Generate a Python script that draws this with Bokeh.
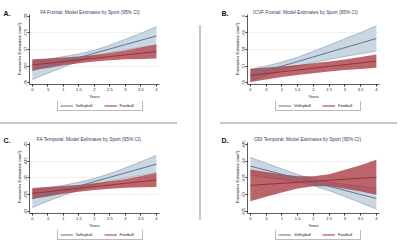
from bokeh.plotting import figure
from bokeh.models import (Range1d, FixedTicker, Legend, LegendItem, LinearAxis,
                          Spacer, ColumnDataSource)
from bokeh.layouts import row, column
from bokeh.embed import file_html
from bokeh.resources import INLINE

# ---------------- data ----------------
years = [0, 0.5, 1, 1.5, 2, 2.5, 3, 3.5, 4]
year_ticks = [0, 0.5, 1, 1.5, 2, 2.5, 3, 3.5, 4]
year_labels = ["0", ".5", "1", "1.5", "2", "2.5", "3", "3.5", "4"]
sports = ["Volleyball", "Football"]

# A. FA Frontal
a_ticks = [0.36, 0.365, 0.37, 0.375, 0.38]
a_labels = [".36", ".365", ".37", ".375", ".38"]
a_vb = [0.3637, 0.3650, 0.3663, 0.3676, 0.3689, 0.3702, 0.3715, 0.3728, 0.3741]
a_vb_hi = [0.3665, 0.3671, 0.3679, 0.3687, 0.3698, 0.3713, 0.3731, 0.3749, 0.3769]
a_vb_lo = [0.3610, 0.3629, 0.3647, 0.3665, 0.3681, 0.3691, 0.3699, 0.3707, 0.3714]
a_fb = [0.3654, 0.3659, 0.3664, 0.3669, 0.3674, 0.3679, 0.3684, 0.3689, 0.3694]
a_fb_hi = [0.3671, 0.3673, 0.3676, 0.3679, 0.3684, 0.3690, 0.3697, 0.3706, 0.3715]
a_fb_lo = [0.3638, 0.3645, 0.3653, 0.3659, 0.3664, 0.3668, 0.3671, 0.3672, 0.3673]

# B. ICVF Frontal
b_ticks = [0.56, 0.57, 0.58, 0.59, 0.60]
b_labels = [".56", ".57", ".58", ".59", ".6"]
b_vb = [0.5645, 0.5673, 0.5701, 0.5728, 0.5756, 0.5784, 0.5812, 0.5839, 0.5867]
b_vb_hi = [0.5680, 0.5701, 0.5725, 0.5754, 0.5790, 0.5827, 0.5865, 0.5903, 0.5943]
b_vb_lo = [0.5610, 0.5645, 0.5677, 0.5702, 0.5722, 0.5741, 0.5759, 0.5775, 0.5791]
b_fb = [0.5645, 0.5656, 0.5667, 0.5677, 0.5688, 0.5699, 0.5709, 0.5720, 0.5731]
b_fb_hi = [0.5685, 0.5692, 0.5699, 0.5707, 0.5718, 0.5729, 0.5741, 0.5756, 0.5771]
b_fb_lo = [0.5605, 0.5620, 0.5635, 0.5647, 0.5658, 0.5669, 0.5677, 0.5684, 0.5691]

# C. FA Temporal
c_ticks = [0.43, 0.435, 0.44, 0.445, 0.45]
c_labels = [".43", ".435", ".44", ".445", ".45"]
c_vb = [0.4338, 0.4351, 0.4363, 0.4376, 0.4389, 0.4402, 0.4415, 0.4428, 0.4441]
c_vb_hi = [0.4364, 0.4371, 0.4378, 0.4387, 0.4398, 0.4413, 0.4430, 0.4448, 0.4467]
c_vb_lo = [0.4312, 0.4331, 0.4348, 0.4365, 0.4380, 0.4391, 0.4400, 0.4408, 0.4415]
c_fb = [0.4354, 0.4359, 0.4364, 0.4369, 0.4374, 0.4379, 0.4384, 0.4389, 0.4394]
c_fb_hi = [0.4370, 0.4373, 0.4376, 0.4379, 0.4384, 0.4390, 0.4397, 0.4406, 0.4415]
c_fb_lo = [0.4338, 0.4345, 0.4353, 0.4359, 0.4364, 0.4368, 0.4371, 0.4372, 0.4373]

# D. ODI Temporal
d_ticks = [0.625, 0.63, 0.635, 0.64, 0.645]
d_labels = [".625", ".63", ".635", ".64", ".645"]
d_vb = [0.6385, 0.6373, 0.6361, 0.6349, 0.6337, 0.6325, 0.6313, 0.6301, 0.6289]
d_vb_hi = [0.6411, 0.6394, 0.6377, 0.6360, 0.6347, 0.6338, 0.6331, 0.6326, 0.6320]
d_vb_lo = [0.6359, 0.6352, 0.6345, 0.6338, 0.6327, 0.6312, 0.6295, 0.6276, 0.6258]
d_fb = [0.6328, 0.6331, 0.6334, 0.6337, 0.6340, 0.6343, 0.6346, 0.6349, 0.6352]
d_fb_hi = [0.6375, 0.6368, 0.6361, 0.6355, 0.6355, 0.6361, 0.6374, 0.6388, 0.6404]
d_fb_lo = [0.6281, 0.6294, 0.6307, 0.6319, 0.6325, 0.6325, 0.6318, 0.6310, 0.6300]

titles = [
    "FA Frontal: Model Estimates by Sport (95% CI)",
    "ICVF Frontal: Model Estimates by Sport (95% CI)",
    "FA Temporal: Model Estimates by Sport (95% CI)",
    "ODI Temporal: Model Estimates by Sport (95% CI)",
]
letters = ["A.", "B.", "C.", "D."]
y_title = "Parameter Estimation (mm\u00b2)"
x_title = "Years"

# ---------------- style ----------------
FONT = "Liberation Sans"
VB_LINE = "#5a7793"
VB_FILL = "#c4d1de"
VB_EDGE = "#93a6ba"
FB_LINE = "#9c3038"
FB_FILL = "#a3333b"
SEP = "#c8c8c8"
W, H = 199, 122
X0, X1 = -0.09, 4.1
BOTTOM = 13


def plain_axis(ax, size, style, color, standoff):
    ax.axis_line_color = None
    ax.major_tick_line_color = None
    ax.minor_tick_line_color = None
    ax.major_tick_out = 0
    ax.major_tick_in = 0
    ax.minor_tick_out = 0
    ax.minor_tick_in = 0
    ax.major_label_text_font = FONT
    ax.major_label_text_font_size = size
    ax.major_label_text_font_style = style
    ax.major_label_text_color = color
    ax.major_label_standoff = standoff


def panel(letter, title, ticks, labels, vb, vb_lo, vb_hi, fb, fb_lo, fb_hi,
          left, right, top, frame_h, pad_top, pad_bot, title_px):
    step = ticks[1] - ticks[0]
    y_lo = ticks[0] - pad_bot * step
    y_hi = ticks[-1] + pad_top * step
    frame_w = W - left - right
    title_x = X0 + (title_px - left) / frame_w * (X1 - X0)

    p = figure(width=W, height=top + frame_h + BOTTOM, toolbar_location=None,
               output_backend="svg", title=None,
               x_range=Range1d(X0, X1), y_range=Range1d(y_lo, y_hi),
               min_border_left=left, min_border_right=right,
               min_border_top=top, min_border_bottom=BOTTOM,
               background_fill_color="white", border_fill_color="white",
               outline_line_color=None)
    src = ColumnDataSource(dict(x=years, vb=vb, vb_lo=vb_lo, vb_hi=vb_hi,
                                fb=fb, fb_lo=fb_lo, fb_hi=fb_hi))
    p.varea(x="x", y1="vb_lo", y2="vb_hi", source=src, fill_color=VB_FILL, fill_alpha=0.9)
    p.line(x="x", y="vb_lo", source=src, line_color=VB_EDGE, line_width=0.7)
    p.line(x="x", y="vb_hi", source=src, line_color=VB_EDGE, line_width=0.7)
    p.varea(x="x", y1="fb_lo", y2="fb_hi", source=src, fill_color=FB_FILL, fill_alpha=0.75)
    p.line(x="x", y="vb", source=src, line_color=VB_LINE, line_width=1)
    p.line(x="x", y="fb", source=src, line_color=FB_LINE, line_width=1)

    xax = p.xaxis[0]
    yax = p.yaxis[0]
    xax.ticker = FixedTicker(ticks=year_ticks)
    xax.major_label_overrides = {t: l for t, l in zip(year_ticks, year_labels)}
    yax.ticker = FixedTicker(ticks=ticks)
    yax.major_label_overrides = {t: l for t, l in zip(ticks, labels)}
    yax.major_label_orientation = "vertical"
    yax.bounds = (y_lo, ticks[-1] + 0.1 * step)
    xax.axis_label = x_title
    yax.axis_label = y_title
    for ax in (xax, yax):
        ax.axis_label_text_font = FONT
        ax.axis_label_text_font_size = "4.2px"
        ax.axis_label_text_font_style = "normal"
        ax.axis_label_text_color = "#222222"
        ax.axis_label_standoff = 0
        ax.major_label_text_font = FONT
        ax.major_label_text_font_size = "4px"
        ax.major_label_text_color = "#222222"
        ax.major_label_standoff = 1
        ax.major_tick_out = 2
        ax.major_tick_in = 0
        ax.minor_tick_out = 0
        ax.minor_tick_in = 0
        ax.axis_line_color = "#333333"
        ax.major_tick_line_color = "#333333"
        ax.axis_line_width = 0.8
    yax.major_label_standoff = 0
    p.xgrid.visible = False
    p.ygrid.ticker = FixedTicker(ticks=ticks[1:-1])
    p.ygrid.grid_line_color = "#ececec"
    p.ygrid.grid_line_width = 0.8

    # title, written as the single label of an axis above the frame
    tax = LinearAxis(ticker=FixedTicker(ticks=[title_x]),
                     major_label_overrides={title_x: title})
    plain_axis(tax, "4.8px", "normal", "#2a3f5f", -1)
    p.add_layout(tax, "above")

    # panel letter, written as the single label of an outer left axis
    lax = LinearAxis(ticker=FixedTicker(ticks=[y_hi]),
                     major_label_overrides={y_hi: letter})
    plain_axis(lax, "7px", "bold", "#111111", 3)
    p.add_layout(lax, "left")

    # legend strip below the plot (its sample lines lie outside the strip's view)
    leg_h = H - top - frame_h - BOTTOM
    foot = figure(width=W, height=leg_h, toolbar_location=None, output_backend="svg",
                  x_range=Range1d(0, 1), y_range=Range1d(0, 1),
                  x_axis_location=None, y_axis_location=None, title=None,
                  min_border_left=left, min_border_right=right,
                  min_border_top=0, min_border_bottom=0, outline_line_color=None,
                  background_fill_color="white", border_fill_color="white")
    foot.grid.visible = False
    rv = foot.line(x=[-3, -2], y=[-3, -3], line_color=VB_LINE, line_width=1)
    rf = foot.line(x=[-3, -2], y=[-3, -3], line_color=FB_LINE, line_width=1)
    legend = Legend(items=[LegendItem(label=sports[0], renderers=[rv]),
                           LegendItem(label=sports[1], renderers=[rf])],
                    orientation="horizontal",
                    location=((frame_w - 76) / 2, leg_h - 10),
                    label_text_font=FONT, label_text_font_size="4px",
                    label_text_color="#222222",
                    glyph_width=13, glyph_height=5, label_height=5,
                    label_standoff=3, spacing=8, padding=2, margin=0,
                    border_line_color="#777777", border_line_width=0.6,
                    background_fill_color="white")
    foot.add_layout(legend, "center")
    return column(p, foot, spacing=0)


pa = panel(letters[0], titles[0], a_ticks, a_labels, a_vb, a_vb_lo, a_vb_hi,
           a_fb, a_fb_lo, a_fb_hi, 28, 40, 13, 75, 0.17, 0.097, 89)
pb = panel(letters[1], titles[1], b_ticks, b_labels, b_vb, b_vb_lo, b_vb_hi,
           b_fb, b_fb_lo, b_fb_hi, 46, 21, 13, 75, 0.17, 0.097, 104)
pc = panel(letters[2], titles[2], c_ticks, c_labels, c_vb, c_vb_lo, c_vb_hi,
           c_fb, c_fb_lo, c_fb_hi, 28, 40, 16, 77, 0.225, 0.113, 88)
pd = panel(letters[3], titles[3], d_ticks, d_labels, d_vb, d_vb_lo, d_vb_hi,
           d_fb, d_fb_lo, d_fb_hi, 46, 21, 16, 77, 0.225, 0.113, 106)

hsep_left = row(Spacer(width=177, height=2, styles={"background-color": SEP}),
                Spacer(width=22, height=2))
hsep_right = row(Spacer(width=19, height=2),
                 Spacer(width=177, height=2, styles={"background-color": SEP}),
                 Spacer(width=3, height=2))
vsep = column(Spacer(width=2, height=25),
              Spacer(width=2, height=195, styles={"background-color": SEP}),
              Spacer(width=2, height=26))

layout = row(column(pa, hsep_left, pc), vsep, column(pb, hsep_right, pd))

open("out.html", "w").write(file_html(layout, INLINE))
